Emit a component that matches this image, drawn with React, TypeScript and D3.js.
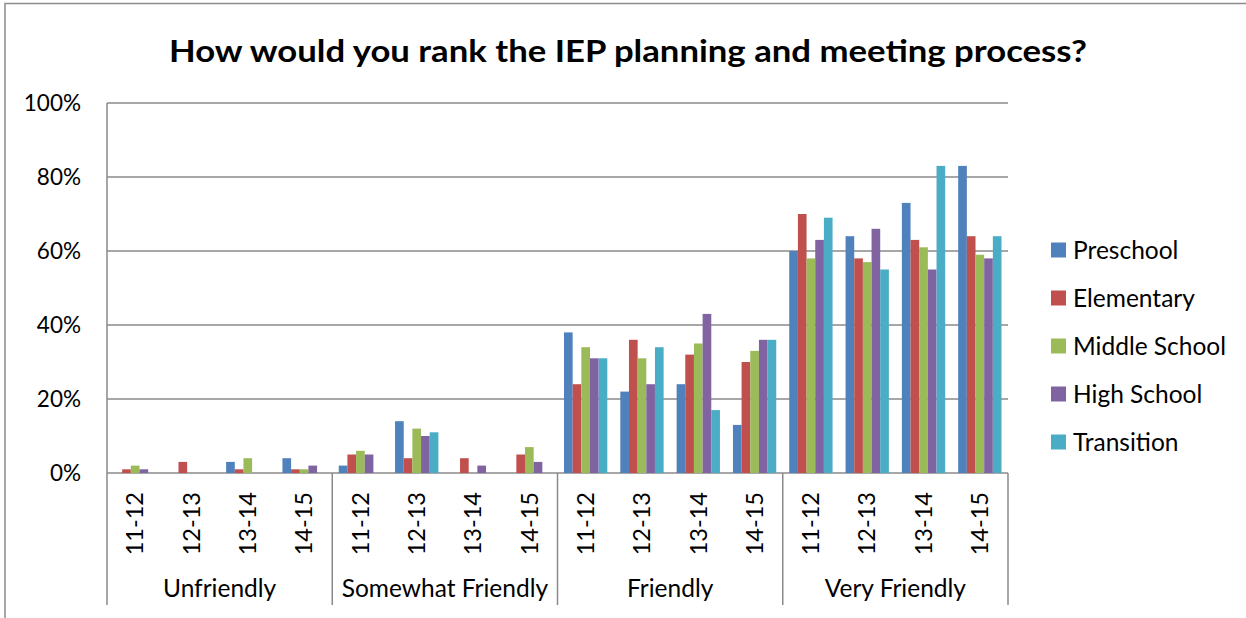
import React from "react";
import * as d3 from "d3";

const title = "How would you rank the IEP planning and meeting process?";
const groups = ["Unfriendly", "Somewhat Friendly", "Friendly", "Very Friendly"];
const years = ["11-12", "12-13", "13-14", "14-15"];
const seriesNames = ["Preschool", "Elementary", "Middle School", "High School", "Transition"];
const seriesColors = ["#4F81BD", "#C0504D", "#9BBB59", "#8064A2", "#4BACC6"];

// values in %, ordered: Unfriendly(4 yrs), Somewhat Friendly(4), Friendly(4), Very Friendly(4)
const preschool = [0, 0, 3, 4, 2, 14, 0, 0, 38, 22, 24, 13, 60, 64, 73, 83];
const elementary = [1, 3, 1, 1, 5, 4, 4, 5, 24, 36, 32, 30, 70, 58, 63, 64];
const middleSchool = [2, 0, 4, 1, 6, 12, 0, 7, 34, 31, 35, 33, 58, 57, 61, 59];
const highSchool = [1, 0, 0, 2, 5, 10, 2, 3, 31, 24, 43, 36, 63, 66, 55, 58];
const transition = [0, 0, 0, 0, 0, 11, 0, 0, 31, 34, 17, 36, 69, 55, 83, 64];
const yTicks = [0, 20, 40, 60, 80, 100];

const seriesValues = [preschool, elementary, middleSchool, highSchool, transition];

export default function App() {
  const W = 1246, H = 618;
  const left = 107, right = 1008, top = 103, bottom = 473;
  const font = "Lato, 'Open Sans', sans-serif";
  const grid = "#8a8a8a";

  const cats = groups.flatMap((g) => years.map((y) => `${g}|${y}`));
  const x = d3.scaleBand<string>().domain(cats).range([left, right]).paddingInner(0).paddingOuter(0);
  const catW = x.bandwidth();
  const barW = catW / 6.5;
  const inner = d3.scaleBand<string>().domain(seriesNames).range([0, barW * 5]);
  const groupOffset = (catW - barW * 5) / 2;
  const y = d3.scaleLinear().domain([0, 100]).range([bottom, top]);
  const gx = d3.scaleBand<string>().domain(groups).range([left, right]);

  return (
    <svg width={W} height={H} style={{ position: "absolute", left: 0, top: 0, display: "block", background: "#fff" }}>
      <rect x={5} y={3.5} width={W + 10} height={H + 10} fill="#fff" stroke="#8c8c8c" strokeWidth={1.5} />
      <text x={628} y={62} textAnchor="middle" fontFamily={font} fontWeight={700} fontSize={31} textLength={918} lengthAdjust="spacingAndGlyphs" fill="#000">
        {title}
      </text>

      {yTicks.map((t) => (
        <g key={t}>
          <line x1={left} x2={right} y1={y(t)} y2={y(t)} stroke={grid} strokeWidth={1.5} />
          <text x={81} y={y(t)} dy="0.35em" textAnchor="end" fontFamily={font} fontSize={22.5} fill="#000">
            {t}%
          </text>
        </g>
      ))}
      <line x1={left} x2={left} y1={top} y2={bottom} stroke={grid} strokeWidth={1.5} />

      {seriesValues.map((vals, si) =>
        vals.map((v, ci) => {
          if (!v) return null;
          const cx = (x(cats[ci]) as number) + groupOffset + (inner(seriesNames[si]) as number);
          return (
            <rect key={`${si}-${ci}`} x={cx} y={y(v)} width={inner.bandwidth()} height={y(0) - y(v)} fill={seriesColors[si]} />
          );
        })
      )}

      {/* category axis */}
      {gx.domain().concat(["__end"]).map((g, i) => {
        const xx = i < groups.length ? (gx(g) as number) : right;
        return <line key={g} x1={xx} x2={xx} y1={bottom} y2={605} stroke={grid} strokeWidth={1.5} />;
      })}
      {cats.map((c, i) => {
        const cx = (x(c) as number) + catW / 2;
        return (
          <text key={c} transform={`translate(${cx},492) rotate(-90)`} dy="0.35em" textAnchor="end" fontFamily={font} fontSize={23.5} fill="#000">
            {years[i % years.length]}
          </text>
        );
      })}
      {groups.map((g) => (
        <text key={g} x={(gx(g) as number) + gx.bandwidth() / 2} y={597} textAnchor="middle" fontFamily={font} fontSize={24.5} fill="#000">
          {g}
        </text>
      ))}

      {/* legend */}
      {seriesNames.map((s, i) => {
        const cy = 250 + i * 48;
        return (
          <g key={s}>
            <rect x={1051} y={cy - 7.5} width={15} height={15} fill={seriesColors[i]} />
            <text x={1073} y={cy} dy="0.36em" fontFamily={font} fontSize={24.5} fill="#000">
              {s}
            </text>
          </g>
        );
      })}
    </svg>
  );
}
